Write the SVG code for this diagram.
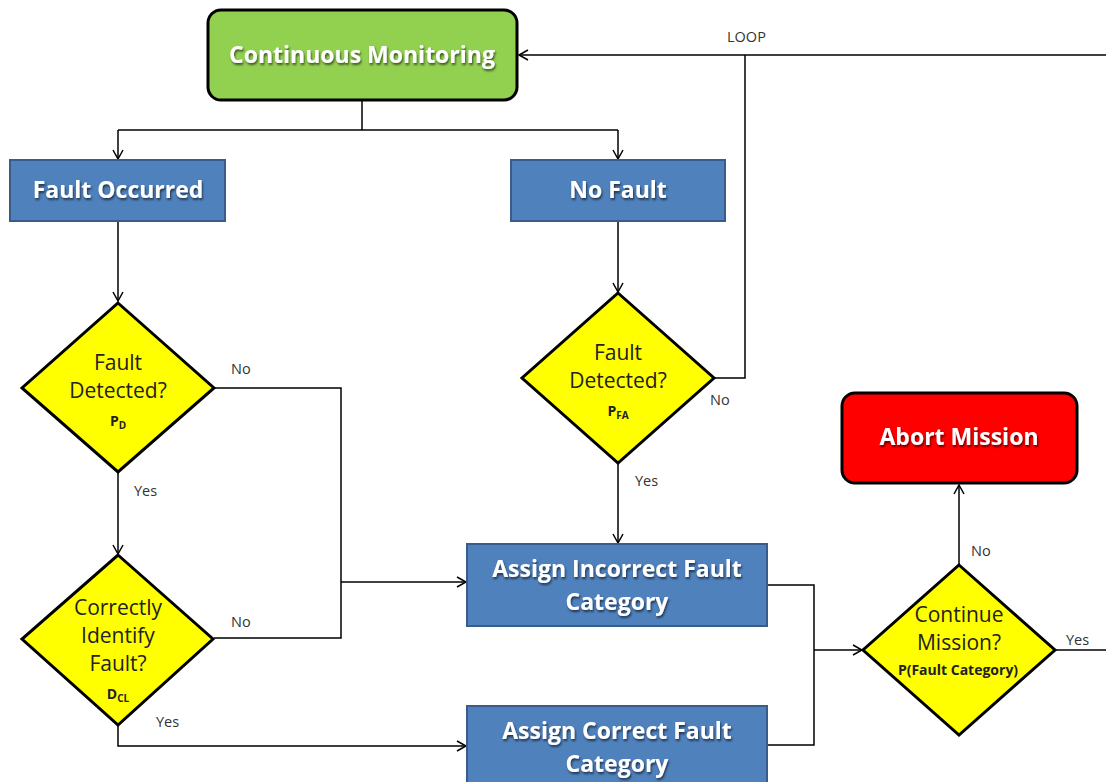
<svg xmlns="http://www.w3.org/2000/svg" width="1106" height="782" viewBox="0 0 1106 782">
<defs>
<style>
.box{fill:#4F81BD;stroke:#385D8A;stroke-width:2}
.dia{fill:#FFFF00;stroke:#000;stroke-width:3;stroke-linejoin:miter}
.term{stroke:#000;stroke-width:3}
.t{font-family:"Open Sans",Lato,sans-serif;font-weight:bold;fill:#fff;text-anchor:middle;font-size:23px;filter:url(#sh)}
.d{font-family:"Open Sans",Lato,sans-serif;fill:#222;text-anchor:middle;font-size:21px}
.s{font-family:"Open Sans",Lato,sans-serif;font-weight:bold;fill:#222;text-anchor:middle;font-size:14px}
.sub{font-size:10px}
.l{font-family:"Open Sans",Lato,sans-serif;fill:#333;font-size:14.5px}
.c{fill:none;stroke:#000;stroke-width:1.5}
</style>
<filter id="sh" x="-10%" y="-30%" width="120%" height="160%">
<feDropShadow dx="1" dy="2" stdDeviation="1" flood-color="#000" flood-opacity="0.6"/>
</filter>
<marker id="a" markerUnits="userSpaceOnUse" markerWidth="14" markerHeight="14" refX="10" refY="6" orient="auto">
<path d="M1,1 L10,6 L1,11" fill="none" stroke="#000" stroke-width="1.5"/>
</marker>
</defs>
<rect width="1106" height="782" fill="#fff"/>
<g id="connectors">
<path class="c" d="M1106,55 L519,55" marker-end="url(#a)"/>
<path class="c" d="M714,378 L745,378 L745,55"/>
<path class="c" d="M362,100 L362,130"/>
<path class="c" d="M118,130 L618,130"/>
<path class="c" d="M118,130 L118,159" marker-end="url(#a)"/>
<path class="c" d="M618,130 L618,159" marker-end="url(#a)"/>
<path class="c" d="M118,221 L118,301" marker-end="url(#a)"/>
<path class="c" d="M618,221 L618,292" marker-end="url(#a)"/>
<path class="c" d="M214,388 L341,388 L341,638 L214,638"/>
<path class="c" d="M341,582 L466,582" marker-end="url(#a)"/>
<path class="c" d="M118,472 L118,554" marker-end="url(#a)"/>
<path class="c" d="M118,725 L118,746 L466,746" marker-end="url(#a)"/>
<path class="c" d="M618,463 L618,543" marker-end="url(#a)"/>
<path class="c" d="M767,585 L814,585 L814,745 L767,745"/>
<path class="c" d="M814,650 L862,650" marker-end="url(#a)"/>
<path class="c" d="M959,565 L959,485" marker-end="url(#a)"/>
<path class="c" d="M1055,650 L1106,650"/>
</g>
<g id="labels">
<text class="l" x="727" y="42">LOOP</text>
<text class="l" x="231" y="374">No</text>
<text class="l" x="134" y="496">Yes</text>
<text class="l" x="231" y="627">No</text>
<text class="l" x="156" y="727">Yes</text>
<text class="l" x="710" y="405">No</text>
<text class="l" x="635" y="486">Yes</text>
<text class="l" x="971" y="556">No</text>
<text class="l" x="1066" y="645">Yes</text>
</g>
<g id="n-monitor">
<rect class="term" x="208" y="10" width="309" height="90" rx="13" fill="#92D050"/>
<text class="t" x="362" y="63">Continuous Monitoring</text>
</g>
<g id="n-fault">
<rect class="box" x="10" y="160" width="215" height="61"/>
<text class="t" x="118" y="198">Fault Occurred</text>
</g>
<g id="n-nofault">
<rect class="box" x="511" y="160" width="214" height="61"/>
<text class="t" x="618" y="198">No Fault</text>
</g>
<g id="n-detect1">
<polygon class="dia" points="118,303 214,388 118,472 22,388"/>
<text class="d" x="118" y="370">Fault</text>
<text class="d" x="118" y="398">Detected?</text>
<text class="s" x="118" y="426">P<tspan class="sub" dy="3">D</tspan></text>
</g>
<g id="n-detect2">
<polygon class="dia" points="618,293 714,378 618,463 522,378"/>
<text class="d" x="618" y="360">Fault</text>
<text class="d" x="618" y="388">Detected?</text>
<text class="s" x="618" y="416">P<tspan class="sub" dy="3">FA</tspan></text>
</g>
<g id="n-identify">
<polygon class="dia" points="118,555 213,639 118,725 22,639"/>
<text class="d" x="118" y="615">Correctly</text>
<text class="d" x="118" y="643">Identify</text>
<text class="d" x="118" y="671">Fault?</text>
<text class="s" x="118" y="699">D<tspan class="sub" dy="3">CL</tspan></text>
</g>
<g id="n-incorrect">
<rect class="box" x="467" y="544" width="300" height="82"/>
<text class="t" x="617" y="577">Assign Incorrect Fault</text>
<text class="t" x="617" y="610">Category</text>
</g>
<g id="n-correct">
<rect class="box" x="467" y="706" width="300" height="82"/>
<text class="t" x="617" y="739">Assign Correct Fault</text>
<text class="t" x="617" y="772">Category</text>
</g>
<g id="n-continue">
<polygon class="dia" points="959,565 1055,650 959,735 863,650"/>
<text class="d" x="959" y="622">Continue</text>
<text class="d" x="959" y="650">Mission?</text>
<text class="s" x="958" y="675">P(Fault Category)</text>
</g>
<g id="n-abort">
<rect class="term" x="842" y="393" width="235" height="90" rx="13" fill="#FF0000"/>
<text class="t" x="959" y="445">Abort Mission</text>
</g>
</svg>
